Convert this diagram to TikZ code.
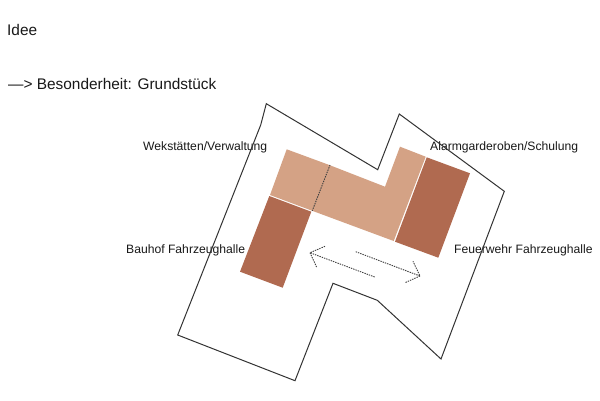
\documentclass[tikz,border=0pt]{standalone}
\usepackage{fontspec}
\setmainfont{Liberation Sans}
\definecolor{lightbrick}{HTML}{D4A285}
\definecolor{darkbrick}{HTML}{B06A50}
\definecolor{lineink}{HTML}{333333}
\tikzset{
  lab/.style={anchor=base west,inner sep=0pt,text=black!90,font=\fontsize{12.15}{14}\selectfont},
  head/.style={anchor=base west,inner sep=0pt,text=black!90,font=\fontsize{15.4}{18}\selectfont},
  outline/.style={draw=lineink,line width=1pt,line join=miter},
  dots/.style={draw=black!75,line width=0.9pt,dash pattern=on 1.4pt off 1pt},
  wing/.style={fill=darkbrick},
  core/.style={fill=lightbrick}
}
\begin{document}
\begin{tikzpicture}[x=1pt,y=-1pt]
\useasboundingbox (0,0) rectangle (600,400);
\fill[white] (0,0) rectangle (600,400);
\node[head] (idee) at (7,35.5) {Idee};
\node[head] (bes) at (8,89) {—> Besonderheit: Grundstück};
\fill[core] (286.7,149.3) -- (329.3,165) -- (385,186.7) -- (400,146.7) -- (425.7,156.7) -- (393.7,241) -- (312,210.7) -- (270,195) -- cycle;
\fill[wing] (426.7,157.3) -- (470,173.3) -- (438.3,257.7) -- (395,241.7) -- cycle;
\fill[wing] (269.3,196) -- (311.3,211.7) -- (282.7,287.7) -- (240,271.7) -- cycle;
\node[lab] (wek) at (143,150) {Wekstätten/Verwaltung};
\node[lab] (alarm) at (430,150) {Alarmgarderoben/Schulung};
\node[lab] (bauhof) at (126,253) {Bauhof Fahrzeughalle};
\node[lab] (feuer) at (454,253) {Feuerwehr Fahrzeughalle};
\draw[outline] (266.3,103.7) -- (377.7,169.7) -- (399.3,114) -- (504.3,191.3) -- (441,359) -- (377.3,300.3) -- (333,283.3) -- (295,380.7) -- (177.7,335) -- (260.7,125) -- cycle;
\draw[dots] (330,165) -- (312.3,210.7);
\draw[dots] (374.7,277) -- (310,252.7) -- (325,246.3);
\draw[dots] (310,252.7) -- (316.7,267.3);
\draw[dots] (355.7,251.7) -- (420,276) -- (413,261.3);
\draw[dots] (420,276) -- (405,282.7);
\end{tikzpicture}
\end{document}
